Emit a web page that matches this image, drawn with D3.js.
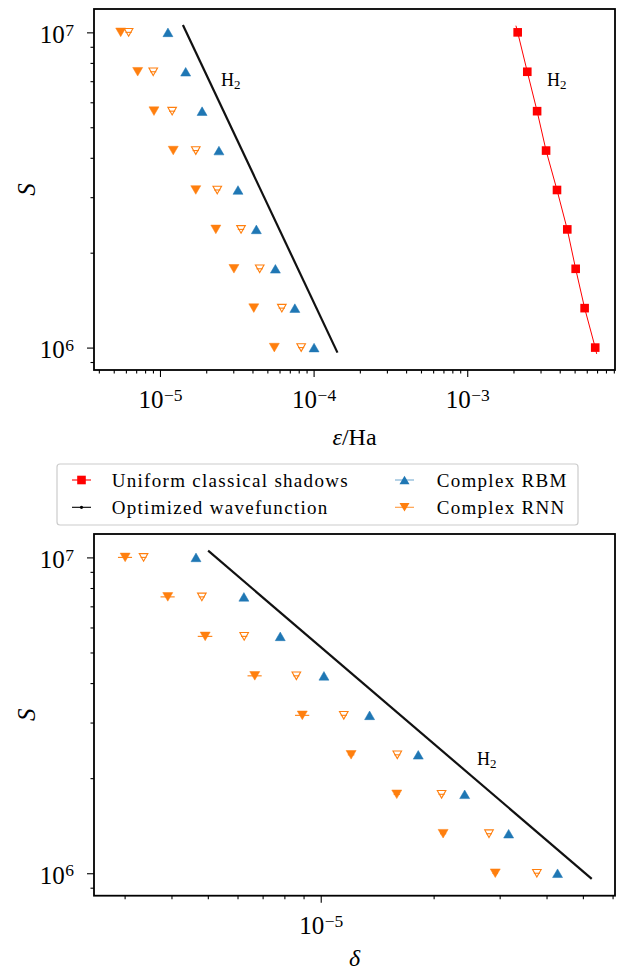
<!DOCTYPE html>
<html>
<head>
<meta charset="utf-8">
<script src="https://cdn.jsdelivr.net/npm/d3@7"></script>
<style>
body { margin: 0; background: #fff; }
svg { display: block; }
text { font-family: "Liberation Serif", "DejaVu Serif", serif; fill: #000; }
</style>
</head>
<body>
<svg id="viz" width="623" height="971"></svg>
<script>
// number of measurements S, shared by all series (top row first)
var shots = [1e7, 7.499e6, 5.623e6, 4.217e6, 3.162e6, 2.371e6, 1.778e6, 1.334e6, 1e6];

// top panel: energy error eps/Ha
var epsShadows = [2.13e-3, 2.46e-3, 2.85e-3, 3.26e-3, 3.84e-3, 4.48e-3, 5.08e-3, 5.81e-3, 6.81e-3];
var epsShadowLine = [2.075e-3, 6.96e-3];
var epsShadowLineS = [1.05e7, 9.55e5];
var epsRbm = [1.127e-5, 1.47e-5, 1.88e-5, 2.42e-5, 3.22e-5, 4.24e-5, 5.64e-5, 7.55e-5, 1.007e-4];
var epsRnn = [5.55e-6, 7.16e-6, 9.14e-6, 1.22e-5, 1.71e-5, 2.31e-5, 3.03e-5, 4.08e-5, 5.55e-5];
var epsRnnOpen = [6.25e-6, 9.04e-6, 1.2e-5, 1.71e-5, 2.36e-5, 3.37e-5, 4.46e-5, 6.21e-5, 8.3e-5];
var epsRnnOpenErr = [2.9e-7, 4.2e-7, 5.5e-7, 7.9e-7, 1.1e-6, 1.6e-6, 2.1e-6, 2.9e-6, 3.8e-6];
var epsOptimized = [1.41e-5, 1.43e-4];
var epsOptimizedS = [1.055e7, 9.64e5];

// bottom panel: delta
var deltaRbm = [4.65e-6, 6.24e-6, 7.8e-6, 1.02e-5, 1.35e-5, 1.82e-5, 2.42e-5, 3.17e-5, 4.28e-5];
var deltaRnn = [3.01e-6, 3.91e-6, 4.92e-6, 6.67e-6, 8.93e-6, 1.205e-5, 1.595e-5, 2.12e-5, 2.92e-5];
var deltaRnnErr = [1.3e-7, 1.7e-7, 2.2e-7, 2.9e-7, 3.9e-7, 2.4e-7, 3e-7, 4e-7, 5e-7];
var deltaRnnOpen = [3.37e-6, 4.82e-6, 6.25e-6, 8.61e-6, 1.152e-5, 1.6e-5, 2.1e-5, 2.81e-5, 3.77e-5];
var deltaRnnOpenErr = [6e-8, 9e-8, 1.2e-7, 1.6e-7, 2.1e-7, 3e-7, 3.9e-7, 5.2e-7, 7e-7];
var deltaOptimized = [5.01e-6, 5.28e-5];
var deltaOptimizedS = [1.05e7, 9.6e5];

var legendLabels = ["Uniform classical shadows", "Optimized wavefunction", "Complex RBM", "Complex RNN"];

var BLUE = "#1f77b4", ORANGE = "#ff7f0e", RED = "#ff0000";

var svg = d3.select("#viz");

function supLabel(sel, exp) {
    sel.text("");
    sel.append("tspan").text("10");
    sel.append("tspan").attr("dy", "-0.42em").attr("dx", "0.5").attr("font-size", "0.7em").text(exp);
}

function triPath(up, w, h) {
    return up ? "M0," + (-h) + "L" + w + "," + h + "L" + (-w) + "," + h + "Z"
              : "M0," + h + "L" + w + "," + (-h) + "L" + (-w) + "," + (-h) + "Z";
}

function panel(box, xDomain, xMajors) {
    var g = svg.append("g");
    var x = d3.scaleLog().domain(xDomain).range([box.left, box.right]);
    var y = d3.scaleLog().domain([8.49e5, 1.186e7]).range([box.bottom, box.top]);

    var xMinor = x.ticks().filter(function (d) { return xMajors.indexOf(d) < 0; });
    var yMinor = y.ticks().filter(function (d) { return d !== 1e6 && d !== 1e7; });

    g.append("g").attr("transform", "translate(0," + box.bottom + ")")
        .call(d3.axisBottom(x).tickValues(xMinor).tickSize(3.5).tickFormat(""));
    var xa = g.append("g").attr("transform", "translate(0," + box.bottom + ")")
        .call(d3.axisBottom(x).tickValues(xMajors).tickSize(7).tickPadding(9));
    xa.attr("font-size", 25).attr("font-family", null);
    xa.selectAll(".tick text").attr("dy", "0.89em")
        .each(function (d) { supLabel(d3.select(this), "\u2212" + Math.round(-Math.log10(d))); });

    g.append("g").attr("transform", "translate(" + box.left + ",0)")
        .call(d3.axisLeft(y).tickValues(yMinor).tickSize(3.5).tickFormat(""));
    var ya = g.append("g").attr("transform", "translate(" + box.left + ",0)")
        .call(d3.axisLeft(y).tickValues([1e6, 1e7]).tickSize(7).tickPadding(13));
    ya.attr("font-size", 25).attr("font-family", null);
    ya.selectAll(".tick text").attr("dy", "0.4em")
        .each(function (d) { supLabel(d3.select(this), String(Math.round(Math.log10(d)))); });

    g.selectAll(".domain").remove();
    g.selectAll(".tick line").attr("stroke", "#000").attr("stroke-width", 1.1);
    g.selectAll(".tick text").attr("fill", "#000");

    g.append("rect").attr("x", box.left).attr("y", box.top)
        .attr("width", box.right - box.left).attr("height", box.bottom - box.top)
        .attr("fill", "none").attr("stroke", "#000").attr("stroke-width", 1.8);

    g.append("text").attr("transform", "translate(35," + ((box.top + box.bottom) / 2) + ") rotate(-90)")
        .attr("text-anchor", "middle").attr("font-size", 25).attr("font-style", "italic").text("S");

    return { g: g, x: x, y: y };
}

function line(p, xs, ys, color, width) {
    var gen = d3.line().x(function (d) { return p.x(d[0]); }).y(function (d) { return p.y(d[1]); });
    p.g.append("path").datum(xs.map(function (v, i) { return [v, ys[i]]; }))
        .attr("d", gen).attr("fill", "none").attr("stroke", color).attr("stroke-width", width);
}

function errbars(p, xs, errs, color) {
    p.g.append("g").selectAll("line").data(xs).join("line")
        .attr("x1", function (d, i) { return p.x(d - errs[i]); })
        .attr("x2", function (d, i) { return p.x(d + errs[i]); })
        .attr("y1", function (d, i) { return p.y(shots[i]); })
        .attr("y2", function (d, i) { return p.y(shots[i]); })
        .attr("stroke", color).attr("stroke-width", 1.1);
}

function triangles(p, xs, up, filled, color) {
    p.g.append("g").selectAll("path").data(xs).join("path")
        .attr("transform", function (d, i) { return "translate(" + p.x(d) + "," + p.y(shots[i]) + ")"; })
        .attr("d", filled ? triPath(up, 5, 4.3) : triPath(up, 4.3, 3.8))
        .attr("fill", filled ? color : "none")
        .attr("stroke", color).attr("stroke-width", filled ? 0.5 : 1.1);
}

function squares(p, xs, color) {
    p.g.append("g").selectAll("rect").data(xs).join("rect")
        .attr("x", function (d) { return p.x(d) - 4.3; })
        .attr("y", function (d, i) { return p.y(shots[i]) - 4.3; })
        .attr("width", 8.6).attr("height", 8.6).attr("fill", color);
}

function h2(p, xPix, yPix) {
    var t = p.g.append("text").attr("x", xPix).attr("y", yPix).attr("font-size", 18);
    t.append("tspan").text("H");
    t.append("tspan").attr("dy", "0.22em").attr("font-size", "0.72em").text("2");
}

// top panel
var topPanel = panel({ left: 94, right: 615, top: 9, bottom: 370 }, [3.72e-6, 9.16e-3], [1e-5, 1e-4, 1e-3]);
line(topPanel, [epsShadowLine[0]].concat(epsShadows, [epsShadowLine[1]]),
     [epsShadowLineS[0]].concat(shots, [epsShadowLineS[1]]), RED, 1);
squares(topPanel, epsShadows, RED);
line(topPanel, epsOptimized, epsOptimizedS, "#111", 2.2);
errbars(topPanel, epsRnnOpen, epsRnnOpenErr, ORANGE);
triangles(topPanel, epsRnn, false, true, ORANGE);
triangles(topPanel, epsRnnOpen, false, false, ORANGE);
triangles(topPanel, epsRbm, true, true, BLUE);
h2(topPanel, 221, 86);
h2(topPanel, 547, 86);
var xl = topPanel.g.append("text").attr("x", 354.5).attr("y", 445).attr("text-anchor", "middle").attr("font-size", 24);
xl.append("tspan").attr("font-style", "italic").text("\u03b5");
xl.append("tspan").text("/Ha");

// bottom panel
var botPanel = panel({ left: 94, right: 615, top: 534, bottom: 895.7 }, [2.486e-6, 6.09e-5], [1e-5]);
line(botPanel, deltaOptimized, deltaOptimizedS, "#111", 2.2);
errbars(botPanel, deltaRnn, deltaRnnErr, ORANGE);
errbars(botPanel, deltaRnnOpen, deltaRnnOpenErr, ORANGE);
triangles(botPanel, deltaRnn, false, true, ORANGE);
triangles(botPanel, deltaRnnOpen, false, false, ORANGE);
triangles(botPanel, deltaRbm, true, true, BLUE);
h2(botPanel, 477, 765);
botPanel.g.append("text").attr("x", 354.5).attr("y", 966).attr("text-anchor", "middle")
    .attr("font-size", 24).attr("font-style", "italic").text("\u03b4");

// legend
var lg = svg.append("g");
lg.append("rect").attr("x", 57).attr("y", 464).attr("width", 521).attr("height", 61).attr("rx", 3)
    .attr("fill", "#fff").attr("fill-opacity", 0.8).attr("stroke", "#cccccc").attr("stroke-width", 1.2);
var entries = [
    { label: legendLabels[0], cx: 81.5, cy: 480, tx: 111.7, color: RED, mark: "square", lineOpacity: 1 },
    { label: legendLabels[1], cx: 81.5, cy: 507.3, tx: 111.7, color: "#000", mark: "dot", lineOpacity: 1 },
    { label: legendLabels[2], cx: 404.5, cy: 480, tx: 436.7, color: BLUE, mark: "up", lineOpacity: 0.6 },
    { label: legendLabels[3], cx: 404.5, cy: 507.3, tx: 436.7, color: ORANGE, mark: "down", lineOpacity: 0.8 }
];
entries.forEach(function (e) {
    lg.append("line").attr("x1", e.cx - 9.5).attr("x2", e.cx + 9.5).attr("y1", e.cy).attr("y2", e.cy)
        .attr("stroke", e.color).attr("stroke-width", 1.1).attr("stroke-opacity", e.lineOpacity);
    if (e.mark === "square") {
        lg.append("rect").attr("x", e.cx - 4.3).attr("y", e.cy - 4.3).attr("width", 8.6).attr("height", 8.6).attr("fill", e.color);
    } else if (e.mark === "dot") {
        lg.append("circle").attr("cx", e.cx).attr("cy", e.cy).attr("r", 1.6).attr("fill", e.color);
    } else {
        lg.append("path").attr("transform", "translate(" + e.cx + "," + e.cy + ")")
            .attr("d", triPath(e.mark === "up", 5, 4.3)).attr("fill", e.color);
    }
    lg.append("text").attr("x", e.tx).attr("y", e.cy + 6.5).attr("font-size", 19)
        .attr("letter-spacing", "1.3px").text(e.label);
});
</script>
</body>
</html>
